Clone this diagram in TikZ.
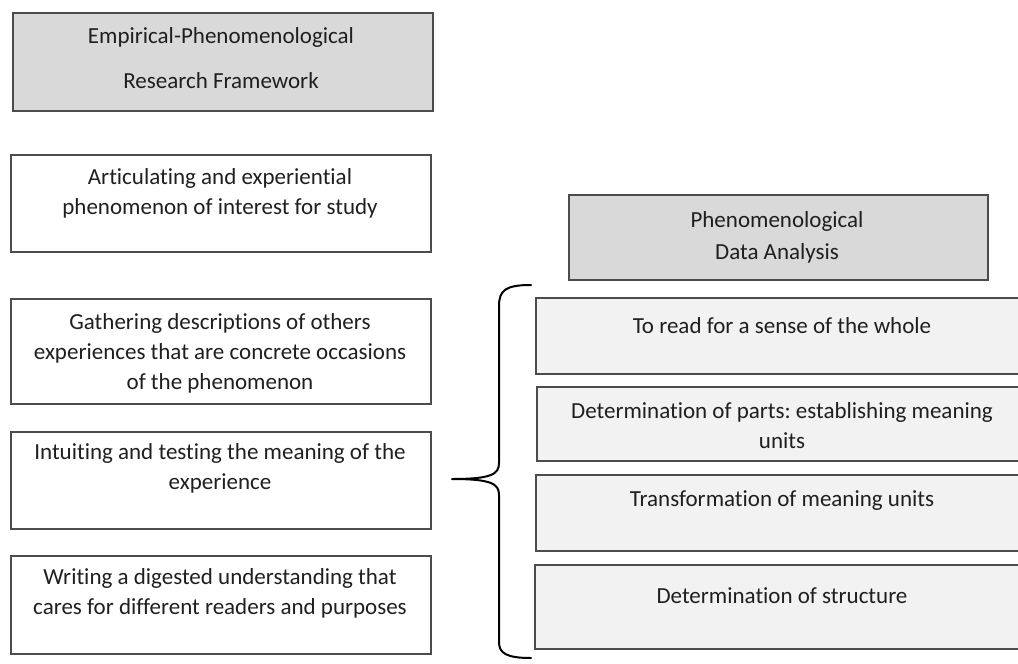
\documentclass[tikz,border=0pt]{standalone}
\usepackage{fontspec}
\setmainfont{Carlito}[Ligatures=NoCommon]
\frenchspacing
\begin{document}
\begin{tikzpicture}[x=1pt,y=-1pt,
  box/.style={draw=black!70, line width=1.6pt, inner sep=0pt, anchor=north west},
  headbox/.style={box, fill=gray!30},
  stepbox/.style={box, fill=gray!10},
  txt/.style={font=\fontsize{23}{30}\selectfont, text=black!88, align=center, inner sep=0pt, anchor=base},
  brace/.style={draw=black, line width=2pt, line cap=round, line join=round}]
\useasboundingbox (0,0) rectangle (1018,664);
\clip (0,0) rectangle (1018,664);

% left column: research framework
\node[headbox, minimum width=420pt, minimum height=98pt] (L0) at (12,12) {};
\node[box, minimum width=420pt, minimum height=97pt]  (L1) at (10,154) {};
\node[box, minimum width=420pt, minimum height=105pt] (L2) at (10,298) {};
\node[box, minimum width=420pt, minimum height=97pt]  (L3) at (10,431) {};
\node[box, minimum width=420pt, minimum height=98pt]  (L4) at (10,555) {};

% text nodes are placed by the baseline of their last line
\node[txt] (t0) at (221,88) {Empirical-Phenomenological\\[15pt]Research Framework};
\node[txt] (t1) at (220,214) {Articulating and experiential\\phenomenon of interest for study};
\node[txt] (t2) at (220,389) {Gathering descriptions of others\\experiences that are concrete occasions\\of the phenomenon};
\node[txt] (t3) at (220,489) {Intuiting and testing the meaning of the\\experience};
\node[txt] (t4) at (220,614) {Writing a digested understanding that\\cares for different readers and purposes};

% right column: data analysis steps
\node[headbox, minimum width=419pt, minimum height=85pt] (R0) at (568,194) {};
\node[stepbox, minimum width=520pt, minimum height=76pt] (R1) at (535,297) {};
\node[stepbox, minimum width=520pt, minimum height=74pt] (R2) at (536,386) {};
\node[stepbox, minimum width=520pt, minimum height=76pt] (R3) at (535,474) {};
\node[stepbox, minimum width=520pt, minimum height=84pt] (R4) at (534,564) {};

\node[txt] (s0) at (777,259) {Phenomenological\\[2pt]Data Analysis};
\node[txt] (s1) at (782,333) {To read for a sense of the whole};
\node[txt] (s2) at (782,448) {Determination of parts: establishing meaning\\units};
\node[txt] (s3) at (782,506) {Transformation of meaning units};
\node[txt] (s4) at (782,603) {Determination of structure};

% curly brace grouping the analysis steps
\coordinate (btop) at (531,285);
\coordinate (btip) at (452,479);
\coordinate (bbot) at (531,658);
\draw[brace] (btop) .. controls (506,285) and (499,290) .. (499,306)
  -- (499,463) .. controls (499,474) and (492,479) .. (btip)
  .. controls (492,479) and (499,484) .. (499,495)
  -- (499,642) .. controls (499,653) and (506,658) .. (bbot);
\end{tikzpicture}
\end{document}
